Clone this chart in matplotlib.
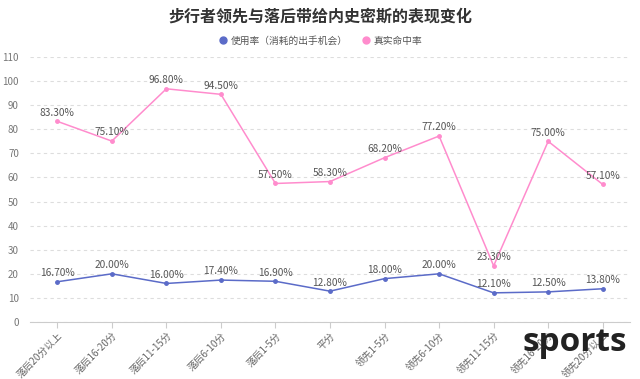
import matplotlib
matplotlib.use("Agg")
import matplotlib.pyplot as plt
from matplotlib.lines import Line2D

plt.rcParams['font.family'] = ['Noto Sans CJK SC', 'DejaVu Sans']

categories = ["落后20分以上", "落后16-20分", "落后11-15分", "落后6-10分", "落后1-5分", "平分",
              "领先1-5分", "领先6-10分", "领先11-15分", "领先16-20分", "领先20分以上"]
usage = [16.7, 20.0, 16.0, 17.4, 16.9, 12.8, 18.0, 20.0, 12.1, 12.5, 13.8]
ts_pct = [83.3, 75.1, 96.8, 94.5, 57.5, 58.3, 68.2, 77.2, 23.3, 75.0, 57.1]
series_names = ["使用率（消耗的出手机会）", "真实命中率"]

blue = "#5b6bc8"
pink = "#ff8ccd"

fig = plt.figure(figsize=(6.4, 3.79), dpi=100)
ax = fig.add_axes([30/640, 57/379, 600/640, 265/379])

x = list(range(len(categories)))
ax.plot(x, usage, color=blue, lw=1.1, marker='o', ms=2.5)
ax.plot(x, ts_pct, color=pink, lw=1.1, marker='o', ms=2.5)

for xi, v in zip(x, usage):
    ax.text(xi, v + 1.5, f"{v:.2f}%", ha='center', va='bottom', fontsize=7.3, color='#555555')
for xi, v in zip(x, ts_pct):
    ax.text(xi, v + 1.5, f"{v:.2f}%", ha='center', va='bottom', fontsize=7.3, color='#555555')

ax.set_xlim(-0.5, len(categories) - 0.5)
ax.set_ylim(0, 110)
ax.set_yticks(range(0, 111, 10))
ax.set_xticks(x)
ax.set_xticklabels(categories, rotation=45, ha='right', rotation_mode='anchor', fontsize=7, color='#666666')
ax.tick_params(axis='y', length=0, labelsize=7, labelcolor='#777777', pad=8)
ax.tick_params(axis='x', length=4, color='#cccccc', pad=2)
ax.grid(axis='y', color='#dddddd', linestyle=(0, (3, 3)), lw=0.8)
for s in ['top', 'right', 'left']:
    ax.spines[s].set_visible(False)
ax.spines['bottom'].set_color('#cccccc')
ax.set_axisbelow(True)

fig.text(0.5, 0.955, "步行者领先与落后带给内史密斯的表现变化", ha='center', va='center',
         fontsize=11.5, fontweight='bold', color='#333333')

handles = [Line2D([], [], marker='o', color=blue, lw=0, ms=5),
           Line2D([], [], marker='o', color=pink, lw=0, ms=5)]
fig.legend(handles, series_names, loc='center', bbox_to_anchor=(0.5, 0.893), ncol=2,
           frameon=False, fontsize=7, handletextpad=0.3, columnspacing=1.4,
           handlelength=1.0, labelcolor='#555555')

fig.text(0.98, 0.095, "sports", ha='right', va='center', fontsize=24, fontweight='bold',
         color='#222222', family=['Open Sans', 'DejaVu Sans'])

fig.savefig("out.png", dpi=100)
